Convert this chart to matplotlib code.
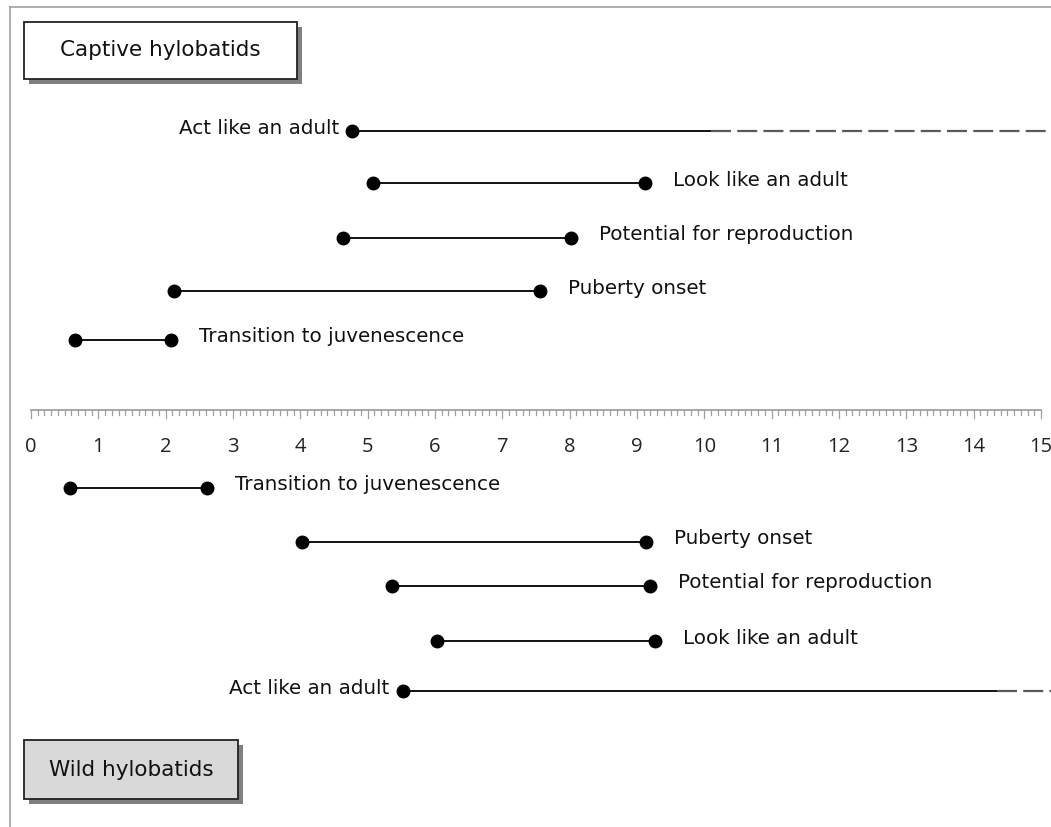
import matplotlib
matplotlib.use("Agg")
import matplotlib.pyplot as plt
from matplotlib.patches import Rectangle

# ---- data ----
captive_labels = ["Act like an adult", "Look like an adult", "Potential for reproduction",
                  "Puberty onset", "Transition to juvenescence"]
captive_start = [4.77, 5.08, 4.63, 2.12, 0.65]
captive_end = [10.1, 9.12, 8.02, 7.56, 2.08]
captive_open_end = [15.3, None, None, None, None]

wild_labels = ["Transition to juvenescence", "Puberty onset", "Potential for reproduction",
               "Look like an adult", "Act like an adult"]
wild_start = [0.58, 4.02, 5.36, 6.03, 5.52]
wild_end = [2.61, 9.13, 9.19, 9.27, 14.35]
wild_open_end = [None, None, None, None, 15.3]

axis_ticks = list(range(0, 16))

# ---- layout (pixel rows) ----
W, H = 1051, 827
fig = plt.figure(figsize=(W / 100, H / 100), dpi=100)
ax = fig.add_axes([0, 0, 1, 1])
px_per_unit = (1041 - 31) / 15.0
x0 = -31 / px_per_unit
x1 = (W - 31) / px_per_unit
ax.set_xlim(x0, x1)
ax.set_ylim(H, 0)
ax.axis("off")

def px(x):
    return x0 + x / px_per_unit

# outer frame
ax.plot([px(10), px(10)], [7, H], color="#a0a0a0", lw=1.2)
ax.plot([px(10), px(W)], [7, 7], color="#a0a0a0", lw=1.2)

font = "DejaVu Sans"
lab_fs = 14.3

captive_y = [131, 183, 238, 291, 340]
wild_y = [488, 542, 586, 641, 691]

def draw(labels, starts, ends, opens, ys, label_side):
    for lab, s, e, o, y, side in zip(labels, starts, ends, opens, ys, label_side):
        ax.plot([s, e], [y, y], color="black", lw=1.3, solid_capstyle="butt", zorder=2)
        if o is not None:
            ax.plot([e, o], [y, y], color="#5a5a5a", lw=1.6, ls=(0, (9, 2.8)), zorder=2)
            ax.plot([s], [y], "o", color="black", ms=9, zorder=3)
        else:
            ax.plot([s, e], [y, y], "o", color="black", ms=9, zorder=3)
        if side == "left":
            ax.text(s - 13 / px_per_unit, y - 2, lab, ha="right", va="center",
                    fontsize=lab_fs, family=font, color="#111111")
        else:
            ax.text(e + 28 / px_per_unit, y - 3, lab, ha="left", va="center",
                    fontsize=lab_fs, family=font, color="#111111")

draw(captive_labels, captive_start, captive_end, captive_open_end, captive_y,
     ["left", "right", "right", "right", "right"])
draw(wild_labels, wild_start, wild_end, wild_open_end, wild_y,
     ["right", "right", "right", "right", "left"])

# ruler
ruler_y = 410
ax.plot([0, 15], [ruler_y, ruler_y], color="#a0a0a0", lw=1.3)
for i in range(0, 151):
    v = i / 10
    L = 8 if i % 10 == 0 else 5
    ax.plot([v, v], [ruler_y, ruler_y + L], color="#a0a0a0", lw=0.9)
for t in axis_ticks:
    ax.text(t, 447, str(t), ha="center", va="center", fontsize=14.5,
            family="Open Sans", color="#222222")

# boxes
def box(xa, ya, xb, yb, text, fc):
    sh = Rectangle((px(xa + 5), ya + 5), (xb - xa) / px_per_unit, yb - ya,
                   facecolor="#808080", edgecolor="none", zorder=4)
    ax.add_patch(sh)
    r = Rectangle((px(xa), ya), (xb - xa) / px_per_unit, yb - ya,
                  facecolor=fc, edgecolor="#222222", lw=1.3, zorder=5)
    ax.add_patch(r)
    ax.text(px((xa + xb) / 2), (ya + yb) / 2, text, ha="center", va="center",
            fontsize=15.5, family=font, color="#111111", zorder=6)

box(24, 22, 297, 79, "Captive hylobatids", "white")
box(24, 740, 238, 799, "Wild hylobatids", "#d9d9d9")

fig.savefig("out.png", dpi=100)
